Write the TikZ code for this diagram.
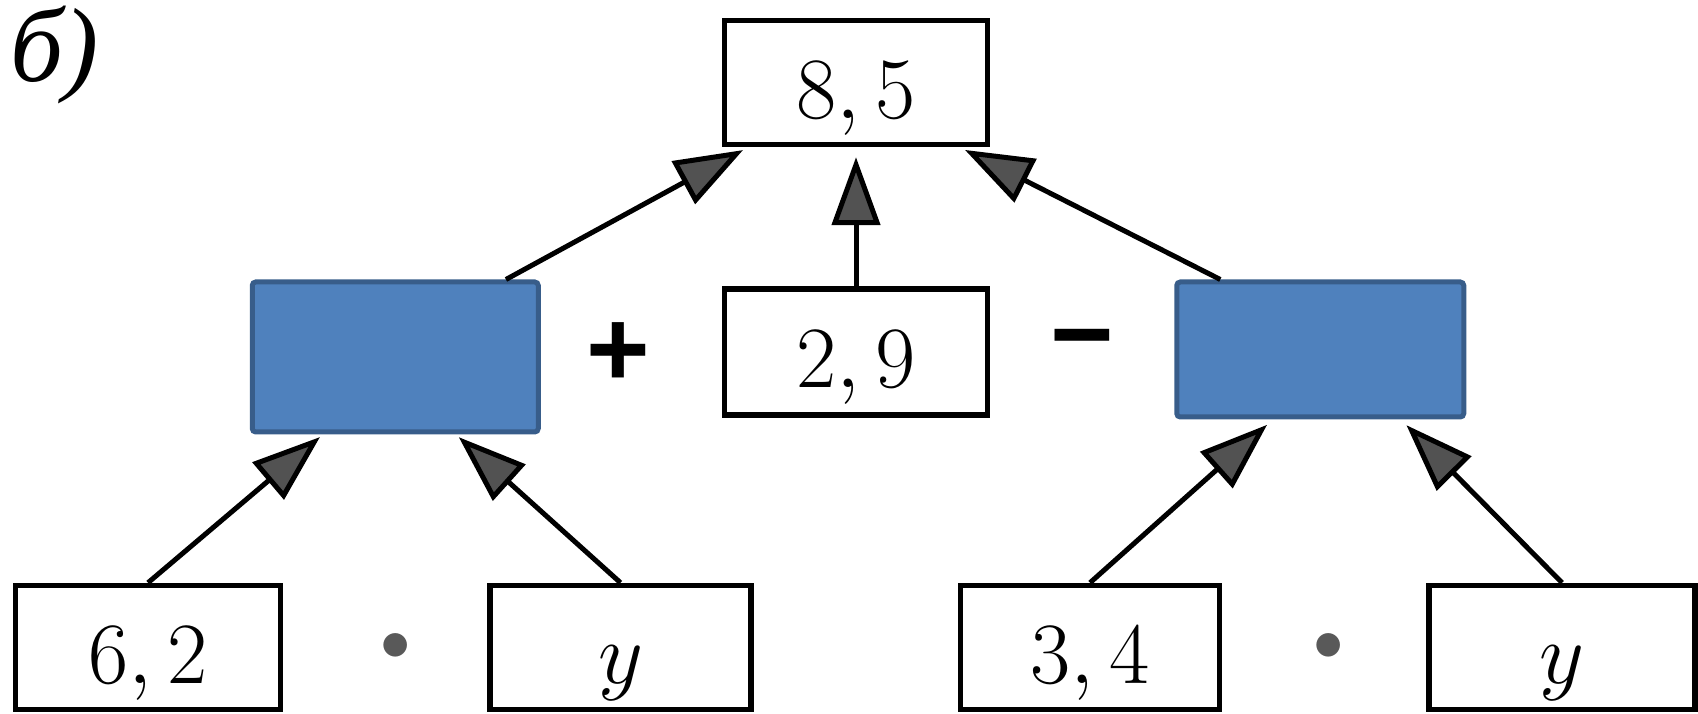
\documentclass[tikz,border=0pt]{standalone}
\usepackage{fontspec}
\newfontfamily\cyrfont{Liberation Serif}
\newfontfamily\opfont{Liberation Sans}
\usetikzlibrary{positioning, arrows.meta, calc}
\definecolor{boxblue}{HTML}{4F81BD}
\definecolor{boxedge}{HTML}{385D8A}

\begin{document}
\begin{tikzpicture}[>={Triangle[length=6.8mm, width=4.8mm, fill=black!68]}, node distance=2.04cm, line width=0.05cm,
    numbox/.style={draw, rectangle, line width=0.055cm, minimum width=2.63cm, minimum height=1.24cm,
      inner sep=0pt, text height=0.72cm, text depth=0pt, font=\fontsize{25}{30}\selectfont},
    blank/.style={draw=boxedge, fill=boxblue, line width=0.05cm, rounded corners=1pt, inner sep=0pt},
    op/.style={inner sep=0pt, font=\opfont\bfseries\fontsize{31}{36}\selectfont},
    times/.style={inner sep=0pt, text=black!65, font=\fontsize{18}{20}\selectfont}]
    \useasboundingbox (0,0) rectangle (16.98,-7.14);

    \node[anchor=base west, inner sep=0pt, font=\cyrfont\itshape\fontsize{30}{34}\selectfont] (lbl) at (0.08,-0.82) {б)};

    \node[numbox] (res) at (8.56,-0.825) {$8,5$};
    \node[numbox, minimum height=1.26cm] (mid) [below=1.39cm of res] {$2,9$};
    \node[blank, minimum width=2.86cm, minimum height=1.50cm] (lblue) [left=1.81cm of mid, yshift=-0.05cm] {};
    \node[blank, minimum width=2.87cm, minimum height=1.35cm] (rblue) [right=1.84cm of mid, yshift=0.025cm] {};

    \node[op] (plus) at ($(lblue.east)!0.43!(mid.west)$) {+};
    \node[op] (minus) at ($(mid.east)!0.5!(rblue.west)$) {−};

    \node[numbox, minimum width=2.65cm] (n62) at (1.48,-6.475) {$6,2$};
    \node[numbox, minimum width=2.61cm] (yl) [right=of n62] {$y$};
    \node[numbox, minimum width=2.59cm] (n34) [right=of yl] {$3,4$};
    \node[numbox, minimum width=2.66cm] (yr) [right=of n34] {$y$};

    \node[times] (dotl) at ($(n62.east)!0.55!(yl.west)$) {$\bullet$};
    \node[times] (dotr) at ($(n34.east)!0.52!(yr.west)$) {$\bullet$};

    \draw[->, shorten >=0.06cm] (lblue.35) -- (res.211);
    \draw[->, shorten >=0.1cm] (mid.north) -- (res.south);
    \draw[->, shorten >=0.06cm] (rblue.145) -- (res.328);

    \draw[->, shorten >=0.04cm] (n62.north) -- (lblue.227);
    \draw[->, shorten >=0.04cm] (yl.north) -- (lblue.308);
    \draw[->, shorten >=0.08cm] (n34.north) -- (rblue.236);
    \draw[->, shorten >=0.08cm] (yr.north) -- (rblue.319);
\end{tikzpicture}
\end{document}
